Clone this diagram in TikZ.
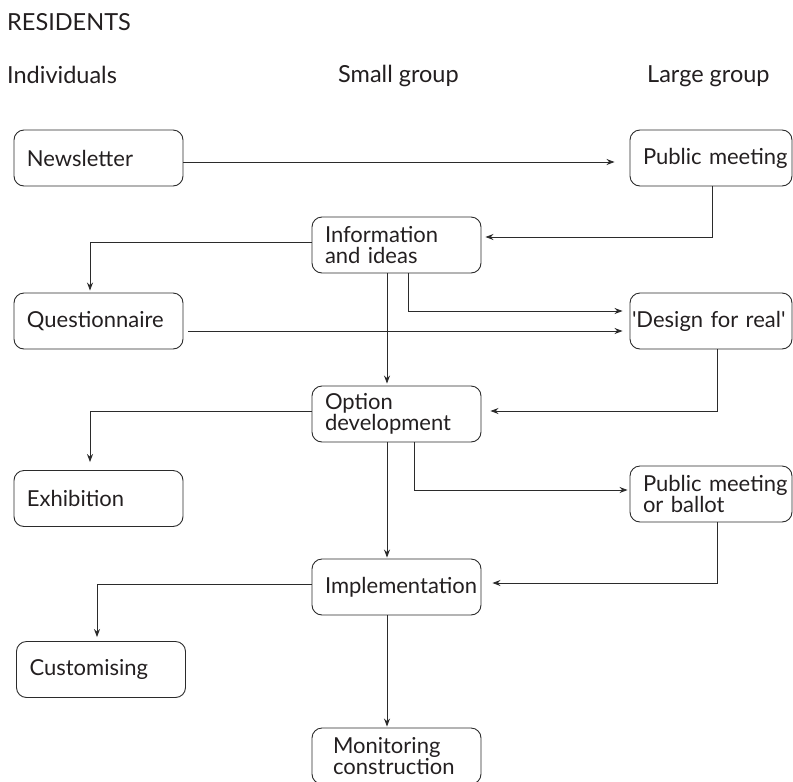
\documentclass[tikz,border=0pt]{standalone}
\usepackage{fontspec}
\setmainfont{Lato}
\usepackage{xcolor}
\usepackage{tikz}
\usetikzlibrary{arrows.meta}
\definecolor{rInk}{HTML}{231F20}
\definecolor{rLine}{HTML}{2B2B2B}

\begin{document}
\begin{tikzpicture}[x=1pt, y=-1pt, >={Stealth[length=8pt,width=6pt]},
  stage/.style={draw=rLine, rounded corners=10pt, line width=0.9pt, minimum height=56pt,
    text width=143pt, inner xsep=13pt, inner ysep=0pt, align=left, text=rInk,
    font=\fontsize{22}{21}\selectfont},
  flow/.style={->, line width=0.9pt, rLine},
  head/.style={anchor=base west, inner sep=0pt, text=rInk, font=\fontsize{23.5}{23.5}\selectfont}]
  \useasboundingbox (0,0) rectangle (793,782);

  % column headings
  \node[head] (res) at (7,30) {RESIDENTS};
  \node[head] (indiv) at (7,83) {Individuals};
  \node[head] (small) at (338,82) {Small group};
  \node[head] (large) at (647,82) {Large group};

  % stages
  \node[stage] (news) at (98.5,158) {Newsletter};
  \node[stage, text width=136pt] (pm) at (711,158) {\mbox{Public meeting}};
  \node[stage] (info) at (396.5,245) {Information\\and ideas};
  \node[stage] (quest) at (98.5,321) {Questionnaire};
  \node[stage, text width=158pt, inner xsep=2pt] (design) at (711,321) {\mbox{\textquotesingle Design for real\textquotesingle}};
  \node[stage] (option) at (396.5,414) {Option\\development};
  \node[stage] (exhib) at (98.5,498.5) {Exhibition};
  \node[stage, text width=136pt] (ballot) at (711,494) {\mbox{Public meeting}\\or ballot};
  \node[stage] (impl) at (396.5,587) {Implementation};
  \node[stage] (cust) at (101,669.5) {Customising};
  \node[stage, text width=127pt, inner xsep=21pt] (monit) at (396.5,756) {Monitoring\\construction};

  % connectors
  \draw[flow, shorten >=15pt] ([yshift=-4pt]news.east) -- ([yshift=-4pt]pm.west);
  \draw[flow, shorten >=4pt] ([xshift=1pt]pm.south) |- ([yshift=8pt]info.east);
  \draw[flow, shorten >=2pt] ([yshift=3pt]info.west) -| ([xshift=-8.5pt]quest.north);
  \draw[flow, shorten >=2pt] ([xshift=-9.5pt]info.south) -- ([xshift=-9.5pt]option.north);
  \draw[flow, shorten >=7pt] ([xshift=11.5pt]info.south) |- ([yshift=10pt]design.west);
  \draw[flow, shorten <=5pt, shorten >=7pt] ([yshift=-10pt]quest.east) -- ([yshift=-10pt]design.west);
  \draw[flow, shorten >=9pt] ([xshift=6pt]design.south) |- ([yshift=3pt]option.east);
  \draw[flow, shorten >=8pt] ([yshift=3pt]option.west) -| ([xshift=-8.5pt]exhib.north);
  \draw[flow, shorten >=1pt] ([xshift=-9.5pt]option.south) -- ([xshift=-9.5pt]impl.north);
  \draw[flow, shorten >=2pt] ([xshift=17.5pt]option.south) |- ([yshift=4pt]ballot.west);
  \draw[flow, shorten >=11pt] ([xshift=6pt]ballot.south) |- ([yshift=4pt]impl.east);
  \draw[flow, shorten >=4pt] ([yshift=3pt]impl.west) -| ([xshift=-4pt]cust.north);
  \draw[flow, shorten >=1pt] ([xshift=-9.5pt]impl.south) -- ([xshift=-9.5pt]monit.north);
\end{tikzpicture}
\end{document}
